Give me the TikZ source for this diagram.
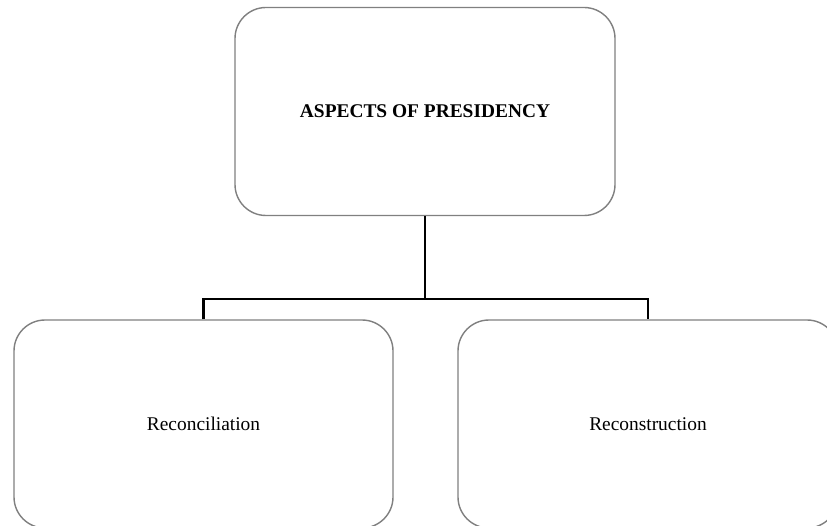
\documentclass[tikz,border=0pt]{standalone}
\usepackage{fontspec}
\setmainfont{Liberation Serif}
\begin{document}
\begin{tikzpicture}[x=1pt,y=-1pt,
  box/.style={draw=black!50, line width=1.4pt, rounded corners=31pt,
    fill=white, inner sep=0pt, minimum width=380pt, minimum height=208pt,
    font=\fontsize{19.4}{23}\selectfont},
  link/.style={draw=black, line width=2.6pt}]
  \useasboundingbox (0,0) rectangle (827,526);
  \clip (0,0) rectangle (827,526);
  \fill[white] (0,0) rectangle (827,526);
  % the three boxes
  \node[box] (top)   at (425,111.5) {\textbf{ASPECTS OF PRESIDENCY}};
  \node[box, minimum width=379pt] (left)  at (203.5,424) {Reconciliation};
  \node[box] (right) at (648,424) {Reconstruction};
  % tree connectors
  \coordinate (mid) at (top.south |- 0,299);
  \draw[link] (top.south) -- (mid);
  \draw[link] (left.north) |- (mid) -| (right.north);
\end{tikzpicture}
\end{document}
